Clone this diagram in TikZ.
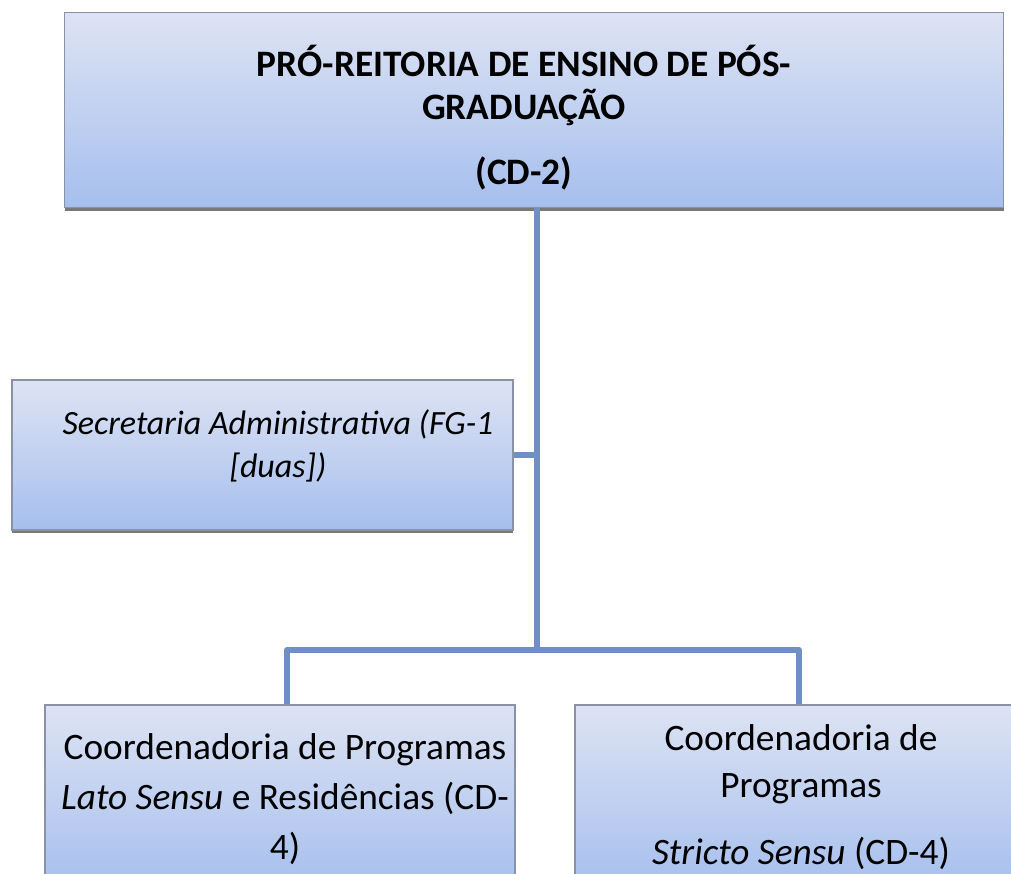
\documentclass[tikz,border=0pt]{standalone}
\usepackage{fontspec}
\setmainfont{Carlito}
\usetikzlibrary{shadows}
\definecolor{boxtop}{HTML}{DDE3F3}
\definecolor{boxbot}{HTML}{A6BFEE}
\definecolor{boxedge}{HTML}{8A93A6}
\definecolor{linkblue}{HTML}{6F8FC5}
\tikzstyle{unit} = [draw=boxedge, line width=0.8pt, top color=boxtop, bottom color=boxbot, inner sep=0pt,
  drop shadow={shadow xshift=0pt, shadow yshift=-2.5pt, opacity=0.7, fill=black!75}]
\tikzstyle{label} = [align=center, inner sep=0pt]
\tikzstyle{link} = [draw=linkblue, line width=4.5pt]

\begin{document}
\begin{tikzpicture}[x=0.75pt,y=-0.75pt]
    \useasboundingbox (0,0) rectangle (1011,874);
    \clip (0,0) rectangle (1011,874);
    \node[unit,minimum width=704.25pt,minimum height=146pt](pro) at (534,110){};
    \node[unit,minimum width=375.75pt,minimum height=112.5pt](secr) at (262.5,455){};
    \node[unit,minimum width=352.5pt,minimum height=138pt](lato) at (280,797){};
    \node[unit,minimum width=336pt,minimum height=138pt](stricto) at (799,797){};
    \node[label,font=\bfseries\fontsize{28}{32}\selectfont](protxt) at (524,118)
        {PRÓ-REITORIA DE ENSINO DE PÓS-\\GRADUAÇÃO\\[17pt](CD-2)};
    \node[label,font=\itshape\fontsize{25.5}{32.5}\selectfont](secrtxt) at (278,446)
        {Secretaria Administrativa (FG-1\\{}[duas])};
    \node[label,font=\fontsize{28}{37.5}\selectfont](latotxt) at (285,799)
        {Coordenadoria de Programas\\\textit{Lato Sensu} e Residências (CD-\\4)};
    \node[label,font=\fontsize{28}{35}\selectfont](strictotxt) at (801,797)
        {Coordenadoria de\\Programas\\[15pt]\textit{Stricto Sensu} (CD-4)};
    \coordinate (bus) at (537,650);
    \draw[link](pro.south -| bus)--(bus);
    \draw[link](secr.east)--(secr.east -| bus);
    \draw[link,line join=round](lato.north -| 287,0)|-(bus)-|(stricto.north);
  \end{tikzpicture}
\end{document}
